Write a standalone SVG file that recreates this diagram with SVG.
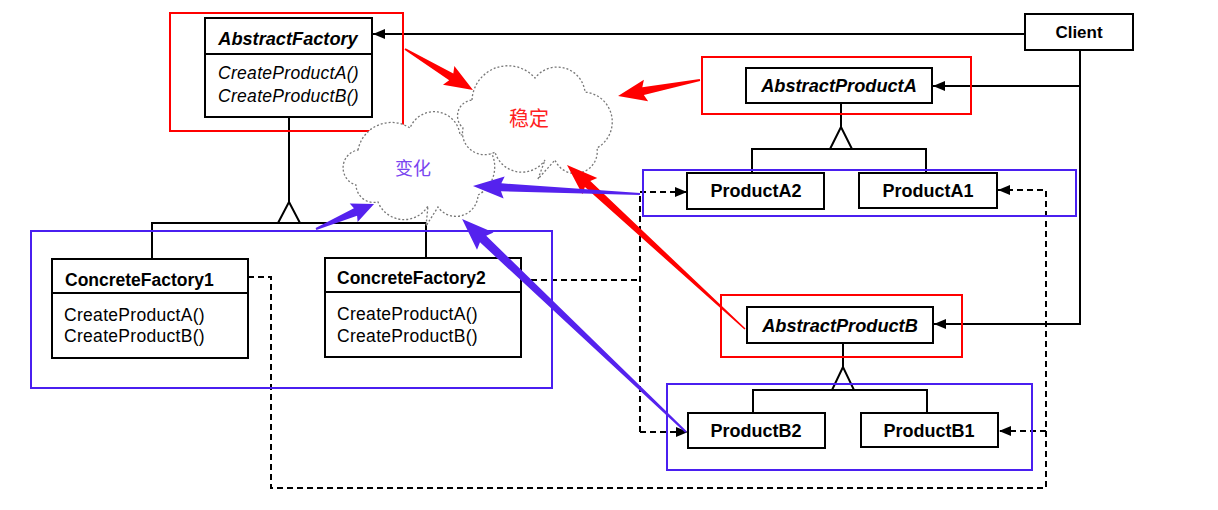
<svg xmlns="http://www.w3.org/2000/svg" width="1218" height="510" viewBox="0 0 1218 510">
<style>
.box{fill:#fff;stroke:#000;stroke-width:2}
.t{font-family:"Liberation Sans",Arial,sans-serif;fill:#000}
.b{font-weight:bold}
.i{font-style:italic}
.m{font-size:17.5px;letter-spacing:0.3px}
.conn{fill:none;stroke:#000;stroke-width:2}
.dash{stroke-dasharray:6,4}
.rf{fill:none;stroke:#ff0000;stroke-width:2}
.bf{fill:none;stroke:#4a1ff0;stroke-width:2}
.cloud{fill:#fff;stroke:#777;stroke-width:1.3;stroke-dasharray:2,2}
.tri{fill:#fff;stroke:#000;stroke-width:2}
.ra{fill:#ff0000}
.ba{fill:#5522ee}
</style>
<defs>
<marker id="ah" markerWidth="12" markerHeight="10" refX="12" refY="5" orient="auto" markerUnits="userSpaceOnUse"><path d="M0,0 L12,5 L0,10 z" fill="#000"/></marker>
</defs>
<rect width="1218" height="510" fill="#fff"/>

<g id="connectors">
  <path class="conn" d="M1025,34 H373" marker-end="url(#ah)"/>
  <path class="conn" d="M1080,50 V324 H934" marker-end="url(#ah)"/>
  <path class="conn" d="M1080,86 H933" marker-end="url(#ah)"/>
  <path class="conn" d="M289,117 V202 M152,261 V223 H426 V260"/>
  <polygon class="tri" points="289,202 278,223 300,223"/>
  <path class="conn" d="M841,103 V127 M752,173 V149 H926 V173"/>
  <polygon class="tri" points="841,127 830,149 852,149"/>
  <path class="conn" d="M843,343 V367 M753,413 V390 H927 V413"/>
  <polygon class="tri" points="843,367 832,390 854,390"/>
  <path class="conn dash" d="M248,277 H271 V488 H1046 V190 H998" marker-end="url(#ah)"/>
  <path class="conn dash" d="M1046,431 H999" marker-end="url(#ah)"/>
  <path class="conn dash" d="M521,280 H640"/>
  <path class="conn dash" d="M640,432 V192 H687" marker-end="url(#ah)"/>
  <path class="conn dash" d="M640,432 H688" marker-end="url(#ah)"/>
</g>

<g id="AbstractFactory">
  <rect class="box" x="205" y="18" width="167" height="99"/>
  <line x1="205" y1="54" x2="372" y2="54" stroke="#000" stroke-width="2"/>
  <text class="t b i" x="288" y="45" font-size="18.2" text-anchor="middle">AbstractFactory</text>
  <text class="t i m" x="218" y="79">CreateProductA()</text>
  <text class="t i m" x="218" y="102">CreateProductB()</text>
</g>
<g id="ConcreteFactory1">
  <rect class="box" x="52" y="259" width="196" height="99"/>
  <line x1="52" y1="293" x2="248" y2="293" stroke="#000" stroke-width="2"/>
  <text class="t b" x="65" y="286" font-size="17.5">ConcreteFactory1</text>
  <text class="t m" x="64" y="321">CreateProductA()</text>
  <text class="t m" x="64" y="342">CreateProductB()</text>
</g>
<g id="ConcreteFactory2">
  <rect class="box" x="325" y="258" width="196" height="99"/>
  <line x1="325" y1="292" x2="521" y2="292" stroke="#000" stroke-width="2"/>
  <text class="t b" x="337" y="284" font-size="17.5">ConcreteFactory2</text>
  <text class="t m" x="337" y="320">CreateProductA()</text>
  <text class="t m" x="337" y="342">CreateProductB()</text>
</g>
<g id="Client">
  <rect class="box" x="1025" y="14" width="108" height="36"/>
  <text class="t b" x="1079" y="38" font-size="17" text-anchor="middle">Client</text>
</g>
<g id="AbstractProductA">
  <rect class="box" x="746" y="68" width="186" height="35"/>
  <text class="t b i" x="839" y="92" font-size="18.2" text-anchor="middle">AbstractProductA</text>
</g>
<g id="ProductA2">
  <rect class="box" x="687" y="173" width="137" height="36"/>
  <text class="t b" x="756" y="197" font-size="18" text-anchor="middle">ProductA2</text>
</g>
<g id="ProductA1">
  <rect class="box" x="859" y="173" width="138" height="35"/>
  <text class="t b" x="928" y="197" font-size="18" text-anchor="middle">ProductA1</text>
</g>
<g id="AbstractProductB">
  <rect class="box" x="747" y="307" width="186" height="36"/>
  <text class="t b i" x="840" y="332" font-size="18.2" text-anchor="middle">AbstractProductB</text>
</g>
<g id="ProductB2">
  <rect class="box" x="688" y="413" width="137" height="35"/>
  <text class="t b" x="756" y="437" font-size="18" text-anchor="middle">ProductB2</text>
</g>
<g id="ProductB1">
  <rect class="box" x="861" y="413" width="137" height="34"/>
  <text class="t b" x="929" y="437" font-size="18" text-anchor="middle">ProductB1</text>
</g>

<g id="frames">
  <rect class="rf" x="170" y="13" width="233" height="118"/>
  <rect class="rf" x="702" y="57" width="269" height="57"/>
  <rect class="rf" x="721" y="295" width="241" height="62"/>
  <rect class="bf" x="31" y="231" width="521" height="157"/>
  <rect class="bf" x="643" y="170" width="433" height="46"/>
  <rect class="bf" x="667" y="384" width="365" height="86"/>
</g>

<g id="cloud-change">
  <path class="cloud" d="M358,150 A34,34 0 0 1 410,128 A26,26 0 0 1 460,135 A32,32 0 0 1 478,195 A22,22 0 0 1 438,207 L426,226 L428,206 A28,28 0 0 1 378,202 A18,18 0 0 1 356,185 A18,18 0 0 1 358,150 Z"/>
  <text x="413" y="175" font-size="18" text-anchor="middle" fill="#7a45f0" font-family="'Noto Sans CJK SC',sans-serif">变化</text>
</g>
<g id="cloud-stable">
  <path class="cloud" d="M472,100 A36,36 0 0 1 535,78 A28,28 0 0 1 585,92 A30,30 0 0 1 597,148 A22,22 0 0 1 555,160 L538,179 L545,160 A28,28 0 0 1 495,152 A22,22 0 0 1 463,128 A16,16 0 0 1 472,100 Z"/>
  <text x="529" y="126" font-size="20" text-anchor="middle" fill="#ff2020" font-family="'Noto Sans CJK SC',sans-serif">稳定</text>
</g>

<g id="highlight-arrows">
  <polygon class="ra" transform="translate(405,49) rotate(31.1)" points="0,-1 54,-4 51,-11 79.4,0 51,11 54,4 0,1"/>
  <polygon class="ra" transform="translate(700,80) rotate(168.96)" points="0,-1 58,-4 55,-11 83.5,0 55,11 58,4 0,1"/>
  <polygon class="ra" transform="translate(745,329) rotate(-137.35)" points="0,-0.8 214,-4 211,-11 242,0 211,11 214,4 0,0.8"/>
  <polygon class="ba" transform="translate(640,194) rotate(-177.26)" points="0,-1 139,-4 136,-11 167.2,0 136,11 139,4 0,1"/>
  <polygon class="ba" transform="translate(316,229) rotate(-23.3)" points="0,-1 43,-4 41,-10 63.2,0 41,10 43,4 0,1"/>
  <polygon class="ba" transform="translate(686,432) rotate(-136.44)" points="0,-1 280,-4.5 277,-12 309,0 277,12 280,4.5 0,1"/>
</g>
</svg>
